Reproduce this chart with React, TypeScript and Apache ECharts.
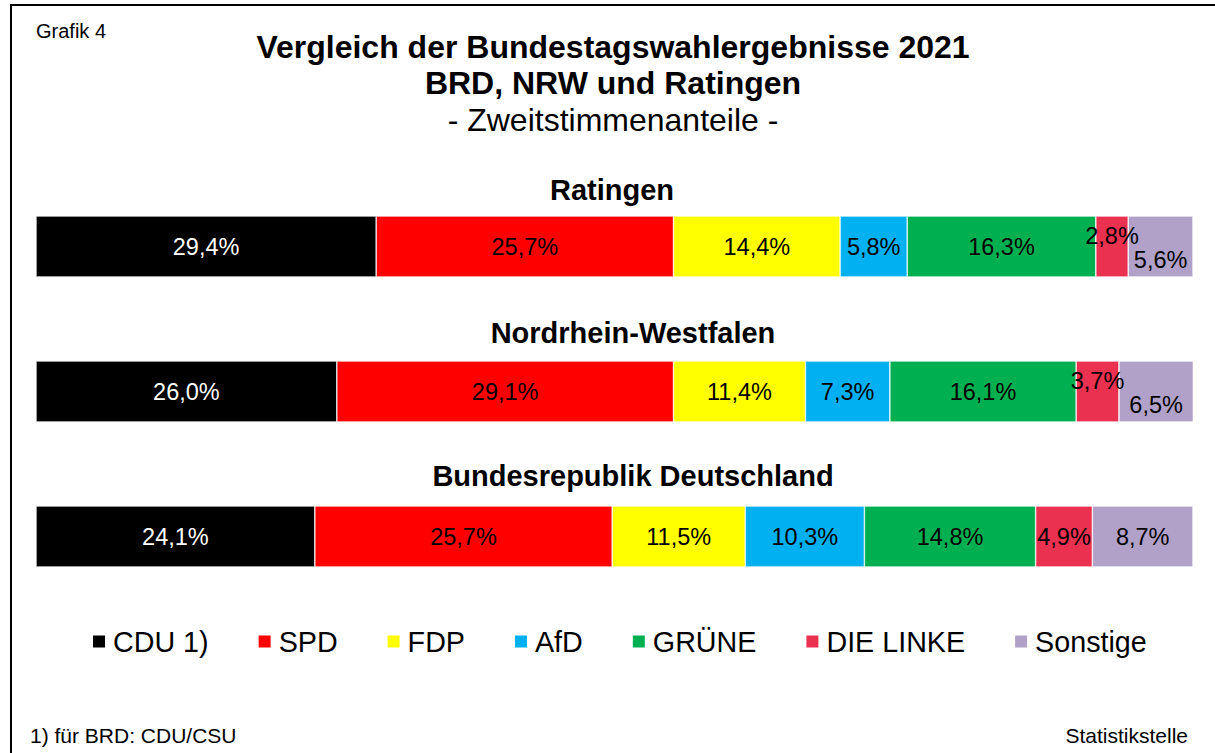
import React, { useEffect, useRef } from "react";
import * as echarts from "echarts";

const regions = ["Ratingen", "Nordrhein-Westfalen", "Bundesrepublik Deutschland"];
const parties = ["CDU 1)", "SPD", "FDP", "AfD", "GRÜNE", "DIE LINKE", "Sonstige"];
const partyColors = ["#000000", "#FF0000", "#FFFF00", "#00B0F0", "#00B050", "#EA3150", "#B1A0C7"];
const cdu = [29.4, 26.0, 24.1];
const spd = [25.7, 29.1, 25.7];
const fdp = [14.4, 11.4, 11.5];
const afd = [5.8, 7.3, 10.3];
const gruene = [16.3, 16.1, 14.8];
const linke = [2.8, 3.7, 4.9];
const sonstige = [5.6, 6.5, 8.7];
const seriesValues = [cdu, spd, fdp, afd, gruene, linke, sonstige];
// label vertical shifts for narrow segments (index: party, then region)
const labelShift: Record<number, number[]> = { 5: [-11, -11, 0], 6: [13, 13, 0] };

const fmt = (v: number) => v.toFixed(1).replace(".", ",") + "%";

export default function App() {
  const ref = useRef<HTMLDivElement>(null);
  useEffect(() => {
    document.body.style.margin = "0";
    const chart = echarts.init(ref.current!, undefined, { renderer: "svg" });
    const font = "'Liberation Sans', Arial, sans-serif";
    const series = parties.map((p, i) => ({
      name: p,
      type: "bar",
      stack: "total",
      barWidth: 61,
      itemStyle: { color: partyColors[i], borderColor: "#ffffff", borderWidth: 0.6 },
      label: {
        show: true,
        position: "inside",
        fontFamily: font,
        fontSize: 23.5,
        color: i === 0 ? "#ffffff" : "#000000",
        formatter: (pr: any) => fmt(pr.value),
      },
      data: seriesValues[i].map((v, j) => {
        const sh = labelShift[i] ? labelShift[i][j] : 0;
        return sh ? { value: v, label: { offset: [0, sh] } } : { value: v };
      }),
    }));
    const regionY = [190, 333, 476];
    const regionX = [612, 633, 633];
    chart.setOption({
      animation: false,
      backgroundColor: "#ffffff",
      grid: { left: 36, width: 1157, top: 174, height: 435 },
      xAxis: { type: "value", min: 0, max: 100, show: false },
      yAxis: { type: "category", data: regions, inverse: true, show: false },
      legend: {
        data: parties,
        top: 622,
        left: 86,
        icon: "rect",
        itemWidth: 14,
        itemHeight: 14,
        itemGap: 48,
        textStyle: { fontFamily: font, fontSize: 28.7, color: "#000", padding: [0, 0, 0, 2] },
      },
      series,
      graphic: [
        { type: "rect", shape: { x: 11, y: 5, width: 1220, height: 770 }, style: { fill: "none", stroke: "#000", lineWidth: 2 }, silent: true },
        { type: "text", x: 36, y: 31, style: { text: "Grafik 4", font: `20px ${font}`, fill: "#000", verticalAlign: "middle" } },
        { type: "text", x: 613, y: 47, style: { text: "Vergleich der Bundestagswahlergebnisse 2021", font: `bold 32px ${font}`, fill: "#000", align: "center", verticalAlign: "middle" } },
        { type: "text", x: 613, y: 83, style: { text: "BRD, NRW und Ratingen", font: `bold 32px ${font}`, fill: "#000", align: "center", verticalAlign: "middle" } },
        { type: "text", x: 613, y: 120, style: { text: "- Zweitstimmenanteile -", font: `32px ${font}`, fill: "#000", align: "center", verticalAlign: "middle" } },
        ...regions.map((r, k) => ({
          type: "text", x: regionX[k], y: regionY[k],
          style: { text: r, font: `bold 29px ${font}`, fill: "#000", align: "center", verticalAlign: "middle" },
        })),
        { type: "text", x: 30, y: 735, style: { text: "1) für BRD: CDU/CSU", font: `21px ${font}`, fill: "#000", verticalAlign: "middle" } },
        { type: "text", x: 1188, y: 735, style: { text: "Statistikstelle", font: `21px ${font}`, fill: "#000", align: "right", verticalAlign: "middle" } },
      ],
    });
    return () => chart.dispose();
  }, []);
  return <div ref={ref} style={{ width: 1215, height: 753 }} />;
}
